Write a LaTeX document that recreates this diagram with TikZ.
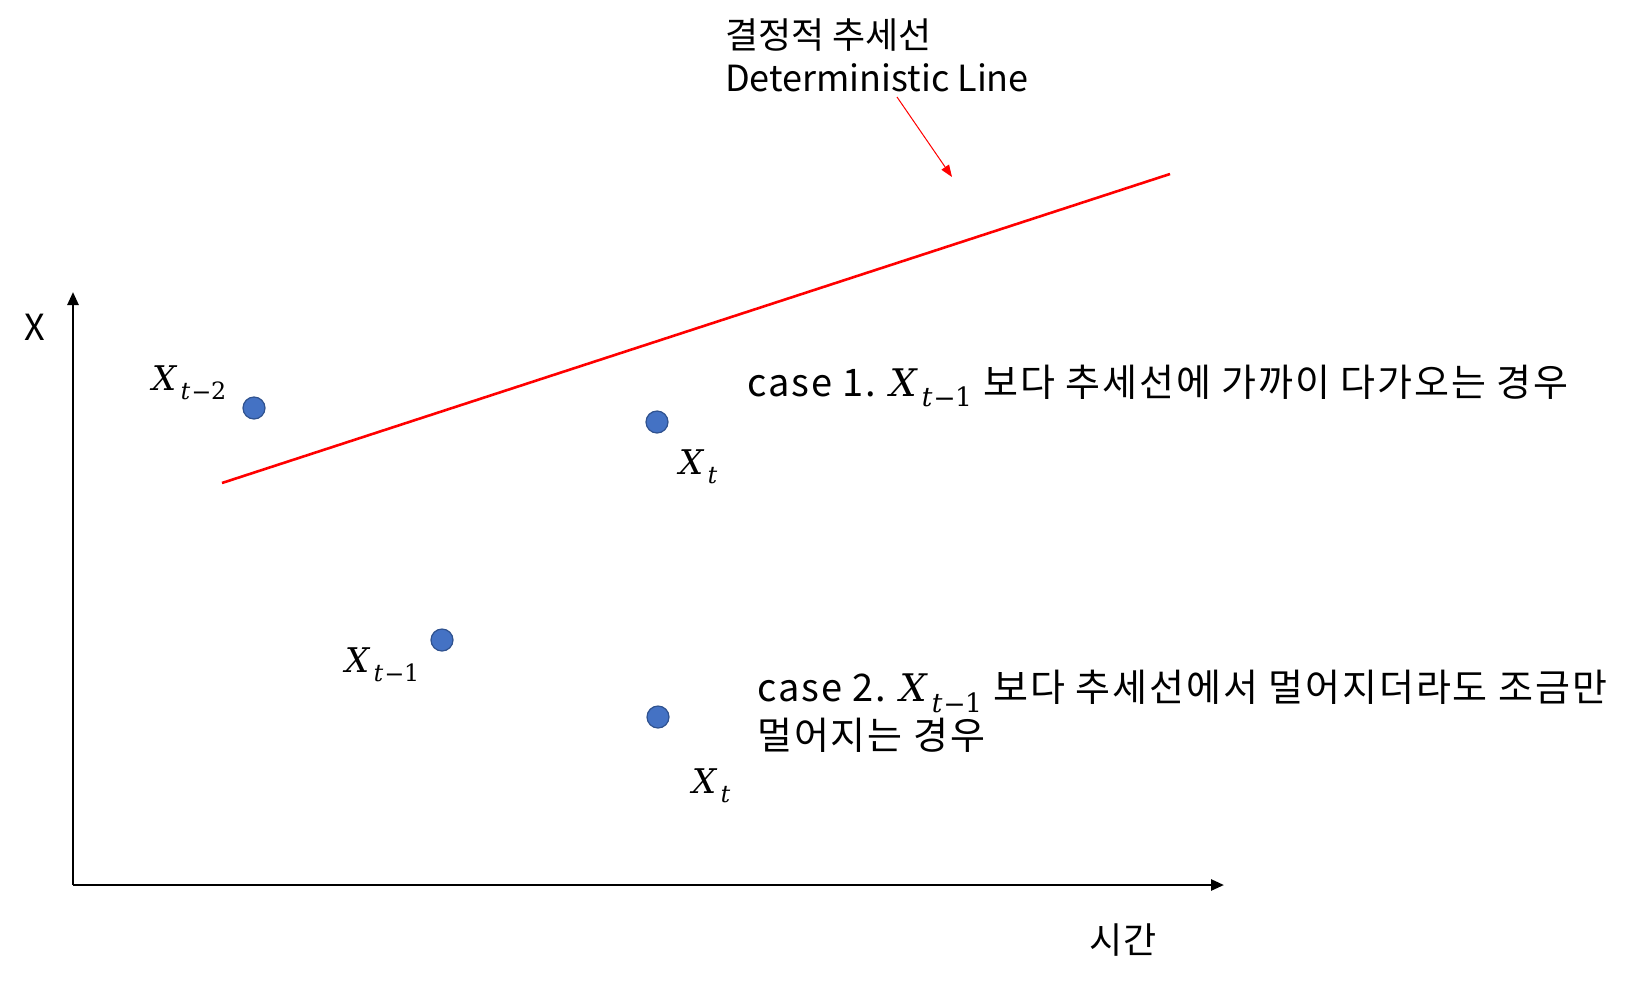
\documentclass[tikz,border=0pt]{standalone}
\usepackage{fontspec}
\usepackage{unicode-math}
\setmainfont{Noto Sans CJK KR}
\newfontfamily\casefont[LetterSpace=5]{Noto Sans CJK KR}
\setmathfont{DejaVu Math TeX Gyre}
\usetikzlibrary{arrows.meta}
\definecolor{dotfill}{HTML}{4472C4}
\definecolor{dotdraw}{HTML}{2F528F}
\definecolor{trendred}{HTML}{FF0000}
\begin{document}
\begin{tikzpicture}[x=1pt,y=-1pt,
  lbl/.style={inner sep=0pt, font=\fontsize{36}{43}\selectfont},
  caselbl/.style={inner sep=0pt, font=\casefont\fontsize{38}{44}\selectfont},
  mlbl/.style={inner sep=0pt, font=\fontsize{34}{40}\selectfont},
  dotnode/.style={circle, minimum size=22pt, inner sep=0pt, fill=dotfill, draw=dotdraw, line width=1.2pt},
  axisline/.style={line width=2.6pt, -{Triangle[length=13pt,width=11pt]}},
  trend/.style={draw=trendred, line width=2.6pt},
  pointer/.style={draw=trendred, line width=1pt, -{Triangle[length=12pt,width=9pt]}},
]
\useasboundingbox (0,0) rectangle (1635,986);
% axes
\coordinate (O) at (73,885);
\coordinate (ytip) at (73,292);
\coordinate (xtip) at (1224,885);
\draw[axisline] (O) -- (ytip);
\draw[axisline] (O) -- (xtip);
\node[lbl] (ylab) at (35,327) {X};
\node[lbl] (xlab) at (1123,940) {시간};
% trend line
\coordinate (tA) at (222,483);
\coordinate (tB) at (1170,174);
\draw[trend] (tA) -- (tB);
% label of trend line
\node[lbl, align=left, anchor=north west] (tlab) at (725,19) {결정적 추세선\\Deterministic Line};
\coordinate (pS) at (897,97);
\coordinate (pE) at (952,177);
\draw[pointer] (pS) -- (pE);
% points
\node[dotnode] (p1) at (254,408) {};
\node[dotnode] (p2) at (657,422) {};
\node[dotnode] (p3) at (442,640) {};
\node[dotnode] (p4) at (658,717) {};
\node[mlbl] (l1) at (187,383) {$X_{t-2}$};
\node[mlbl] (l2) at (697,467) {$X_{t}$};
\node[mlbl] (l3) at (380,665) {$X_{t-1}$};
\node[mlbl] (l4) at (710,786) {$X_{t}$};
% case texts
\node[caselbl, anchor=west] (c1) at (747,386) {case 1.\kern-2pt\ $X_{t-1}$\ 보다 추세선에 가까이 다가오는 경우};
\node[caselbl, anchor=north west, align=left] (c2) at (757,670) {case 2.\kern-2pt\ $X_{t-1}$\ 보다 추세선에서 멀어지더라도 조금만\\[4pt]멀어지는 경우};
\end{tikzpicture}
\end{document}
